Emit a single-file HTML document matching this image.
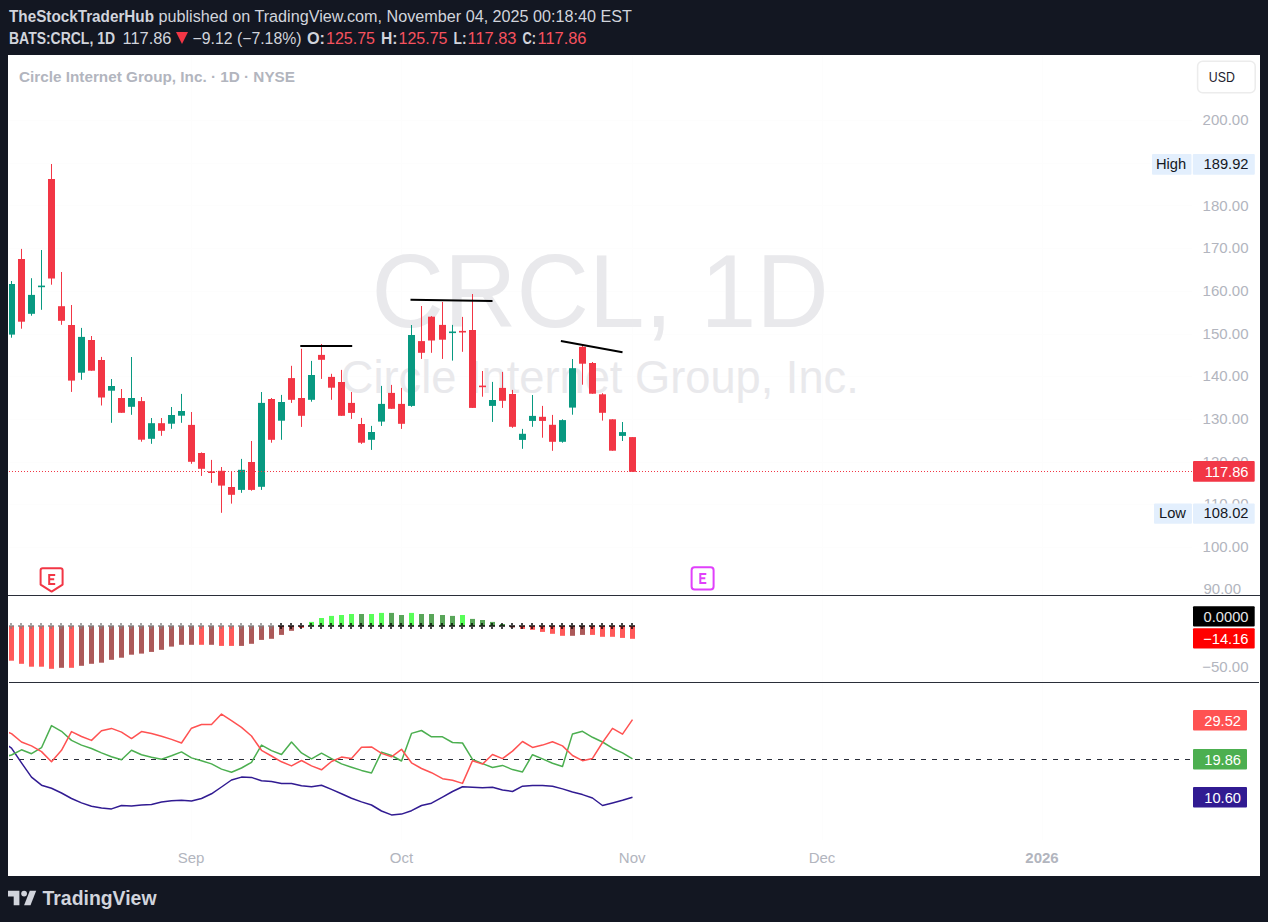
<!DOCTYPE html>
<html><head><meta charset="utf-8">
<style>
html,body{margin:0;padding:0;background:#131722;width:1268px;height:922px;overflow:hidden;}
svg{position:absolute;left:0;top:0;display:block;}
text{font-family:"Liberation Sans",sans-serif;}
</style></head><body>
<svg width="1268" height="922" viewBox="0 0 1268 922">
<defs><clipPath id="clipL"><rect x="9" y="683" width="1183" height="190"/></clipPath>
<clipPath id="clipP"><rect x="9" y="56" width="1250" height="819"/></clipPath></defs>
<rect x="0" y="0" width="1268" height="922" fill="#131722"/>
<!-- header -->
<g fill="#D1D4DC" font-size="16">
<text x="9" y="22" font-weight="bold" textLength="145" lengthAdjust="spacingAndGlyphs">TheStockTraderHub</text>
<text x="158.5" y="22" textLength="473.5" lengthAdjust="spacingAndGlyphs">published on TradingView.com, November 04, 2025 00:18:40 EST</text>
<text x="9" y="44" font-weight="bold" textLength="106" lengthAdjust="spacingAndGlyphs">BATS:CRCL, 1D</text>
<text x="122.5" y="44" textLength="49" lengthAdjust="spacingAndGlyphs">117.86</text>
<text x="192.5" y="44" textLength="109" lengthAdjust="spacingAndGlyphs">−9.12 (−7.18%)</text>
<text x="307" y="44" font-weight="bold" textLength="18" lengthAdjust="spacingAndGlyphs">O:</text>
<text x="381" y="44" font-weight="bold" textLength="16.5" lengthAdjust="spacingAndGlyphs">H:</text>
<text x="453.5" y="44" font-weight="bold" textLength="13" lengthAdjust="spacingAndGlyphs">L:</text>
<text x="522.5" y="44" font-weight="bold" textLength="13.5" lengthAdjust="spacingAndGlyphs">C:</text>
</g>
<g fill="#F7525F" font-size="16">
<text x="326" y="44" textLength="49" lengthAdjust="spacingAndGlyphs">125.75</text>
<text x="398.5" y="44" textLength="49" lengthAdjust="spacingAndGlyphs">125.75</text>
<text x="467.5" y="44" textLength="49" lengthAdjust="spacingAndGlyphs">117.83</text>
<text x="537.5" y="44" textLength="49" lengthAdjust="spacingAndGlyphs">117.86</text>
</g>
<polygon points="176,32 188,32 182,44" fill="#F23645"/>
<!-- panel -->
<rect x="8" y="55" width="1252" height="821" fill="#FFFFFF"/>
<g clip-path="url(#clipP)">
<rect x="8" y="590" width="1184" height="1" fill="#FDFDFD"/>
<rect x="8" y="547" width="1184" height="1" fill="#FDFDFD"/>
<rect x="8" y="504" width="1184" height="1" fill="#FDFDFD"/>
<rect x="8" y="462" width="1184" height="1" fill="#FDFDFD"/>
<rect x="8" y="419" width="1184" height="1" fill="#FDFDFD"/>
<rect x="8" y="376" width="1184" height="1" fill="#FDFDFD"/>
<rect x="8" y="334" width="1184" height="1" fill="#FDFDFD"/>
<rect x="8" y="291" width="1184" height="1" fill="#FDFDFD"/>
<rect x="8" y="248" width="1184" height="1" fill="#FDFDFD"/>
<rect x="8" y="205" width="1184" height="1" fill="#FDFDFD"/>
<rect x="8" y="163" width="1184" height="1" fill="#FDFDFD"/>
<rect x="8" y="120" width="1184" height="1" fill="#FDFDFD"/>
<rect x="191" y="55" width="1" height="785" fill="#FDFDFD"/>
<rect x="401" y="55" width="1" height="785" fill="#FDFDFD"/>
<rect x="632" y="55" width="1" height="785" fill="#FDFDFD"/>
<rect x="822" y="55" width="1" height="785" fill="#FDFDFD"/>
<rect x="1042" y="55" width="1" height="785" fill="#FDFDFD"/>
<text x="600.1" y="327.3" text-anchor="middle" font-size="103" fill="#E9E9EC" textLength="457" lengthAdjust="spacingAndGlyphs">CRCL, 1D</text>
<text x="599.8" y="392.8" text-anchor="middle" font-size="46" fill="#E9E9EC" textLength="518" lengthAdjust="spacingAndGlyphs">Circle Internet Group, Inc.</text>
<rect x="11" y="281.0" width="1" height="56.7" fill="#089981"/>
<rect x="8" y="284.0" width="7" height="50.6" fill="#089981"/>
<rect x="21" y="248.9" width="1" height="79.8" fill="#F23645"/>
<rect x="18" y="259.0" width="7" height="62.7" fill="#F23645"/>
<rect x="31" y="278.2" width="1" height="37.5" fill="#089981"/>
<rect x="28" y="294.9" width="7" height="18.9" fill="#089981"/>
<rect x="41" y="250.0" width="1" height="59.8" fill="#089981"/>
<rect x="38" y="285.6" width="7" height="1.6" fill="#089981"/>
<rect x="51" y="164.0" width="1" height="120.7" fill="#F23645"/>
<rect x="48" y="179.0" width="7" height="99.5" fill="#F23645"/>
<rect x="61" y="272.0" width="1" height="52.8" fill="#F23645"/>
<rect x="58" y="306.2" width="7" height="14.6" fill="#F23645"/>
<rect x="71" y="305.0" width="1" height="86.9" fill="#F23645"/>
<rect x="68" y="325.0" width="7" height="55.6" fill="#F23645"/>
<rect x="81" y="327.9" width="1" height="51.9" fill="#089981"/>
<rect x="78" y="336.9" width="7" height="35.8" fill="#089981"/>
<rect x="91" y="336.0" width="1" height="34.7" fill="#F23645"/>
<rect x="88" y="340.0" width="7" height="30.7" fill="#F23645"/>
<rect x="101" y="356.9" width="1" height="48.6" fill="#F23645"/>
<rect x="98" y="360.0" width="7" height="37.5" fill="#F23645"/>
<rect x="111" y="379.0" width="1" height="43.8" fill="#089981"/>
<rect x="108" y="386.0" width="7" height="4.7" fill="#089981"/>
<rect x="121" y="389.0" width="1" height="23.8" fill="#F23645"/>
<rect x="118" y="398.0" width="7" height="14.8" fill="#F23645"/>
<rect x="131" y="357.0" width="1" height="57.8" fill="#089981"/>
<rect x="128" y="398.0" width="7" height="8.8" fill="#089981"/>
<rect x="141" y="397.0" width="1" height="44.7" fill="#F23645"/>
<rect x="138" y="401.1" width="7" height="38.6" fill="#F23645"/>
<rect x="151" y="418.0" width="1" height="25.8" fill="#089981"/>
<rect x="148" y="423.2" width="7" height="15.6" fill="#089981"/>
<rect x="161" y="418.0" width="1" height="17.8" fill="#F23645"/>
<rect x="158" y="423.2" width="7" height="7.6" fill="#F23645"/>
<rect x="171" y="407.0" width="1" height="21.8" fill="#089981"/>
<rect x="168" y="415.0" width="7" height="8.7" fill="#089981"/>
<rect x="181" y="393.9" width="1" height="28.9" fill="#089981"/>
<rect x="178" y="411.0" width="7" height="4.7" fill="#089981"/>
<rect x="191" y="412.0" width="1" height="51.8" fill="#F23645"/>
<rect x="188" y="424.9" width="7" height="36.9" fill="#F23645"/>
<rect x="201" y="452.4" width="1" height="23.5" fill="#F23645"/>
<rect x="198" y="453.0" width="7" height="15.8" fill="#F23645"/>
<rect x="211" y="459.9" width="1" height="23.0" fill="#F23645"/>
<rect x="208" y="471.4" width="7" height="1.6" fill="#F23645"/>
<rect x="221" y="467.0" width="1" height="45.8" fill="#F23645"/>
<rect x="218" y="470.8" width="7" height="14.8" fill="#F23645"/>
<rect x="231" y="471.0" width="1" height="32.6" fill="#F23645"/>
<rect x="228" y="487.0" width="7" height="7.8" fill="#F23645"/>
<rect x="241" y="458.9" width="1" height="33.9" fill="#089981"/>
<rect x="238" y="469.8" width="7" height="20.1" fill="#089981"/>
<rect x="251" y="441.0" width="1" height="49.7" fill="#F23645"/>
<rect x="248" y="462.0" width="7" height="27.9" fill="#F23645"/>
<rect x="261" y="392.0" width="1" height="97.9" fill="#089981"/>
<rect x="258" y="402.9" width="7" height="83.9" fill="#089981"/>
<rect x="271" y="398.0" width="1" height="44.7" fill="#F23645"/>
<rect x="268" y="399.0" width="7" height="40.8" fill="#F23645"/>
<rect x="281" y="394.9" width="1" height="44.9" fill="#089981"/>
<rect x="278" y="402.0" width="7" height="18.7" fill="#089981"/>
<rect x="291" y="365.8" width="1" height="37.1" fill="#F23645"/>
<rect x="288" y="378.1" width="7" height="21.7" fill="#F23645"/>
<rect x="301" y="348.8" width="1" height="78.1" fill="#F23645"/>
<rect x="298" y="398.0" width="7" height="17.8" fill="#F23645"/>
<rect x="311" y="360.9" width="1" height="40.8" fill="#089981"/>
<rect x="308" y="375.0" width="7" height="24.8" fill="#089981"/>
<rect x="321" y="344.0" width="1" height="34.9" fill="#F23645"/>
<rect x="318" y="354.9" width="7" height="4.9" fill="#F23645"/>
<rect x="331" y="373.8" width="1" height="26.0" fill="#F23645"/>
<rect x="328" y="376.9" width="7" height="10.8" fill="#F23645"/>
<rect x="341" y="369.9" width="1" height="45.9" fill="#F23645"/>
<rect x="338" y="382.0" width="7" height="33.8" fill="#F23645"/>
<rect x="351" y="392.0" width="1" height="26.9" fill="#F23645"/>
<rect x="348" y="402.9" width="7" height="10.0" fill="#F23645"/>
<rect x="361" y="417.9" width="1" height="26.0" fill="#F23645"/>
<rect x="358" y="424.0" width="7" height="18.7" fill="#F23645"/>
<rect x="371" y="425.9" width="1" height="24.0" fill="#089981"/>
<rect x="368" y="432.0" width="7" height="7.8" fill="#089981"/>
<rect x="381" y="385.9" width="1" height="40.0" fill="#089981"/>
<rect x="378" y="403.9" width="7" height="17.7" fill="#089981"/>
<rect x="391" y="384.9" width="1" height="23.9" fill="#F23645"/>
<rect x="388" y="392.9" width="7" height="15.9" fill="#F23645"/>
<rect x="401" y="387.9" width="1" height="41.0" fill="#F23645"/>
<rect x="398" y="403.9" width="7" height="19.9" fill="#F23645"/>
<rect x="411" y="325.0" width="1" height="81.8" fill="#089981"/>
<rect x="408" y="335.0" width="7" height="70.9" fill="#089981"/>
<rect x="421" y="306.0" width="1" height="52.9" fill="#F23645"/>
<rect x="418" y="341.1" width="7" height="11.7" fill="#F23645"/>
<rect x="431" y="316.1" width="1" height="36.7" fill="#F23645"/>
<rect x="428" y="316.7" width="7" height="23.8" fill="#F23645"/>
<rect x="442" y="301.9" width="1" height="57.0" fill="#F23645"/>
<rect x="439" y="324.9" width="7" height="14.8" fill="#F23645"/>
<rect x="452" y="324.9" width="1" height="35.7" fill="#089981"/>
<rect x="449" y="331.5" width="7" height="1.6" fill="#089981"/>
<rect x="462" y="316.9" width="1" height="34.9" fill="#F23645"/>
<rect x="459" y="330.9" width="7" height="1.6" fill="#F23645"/>
<rect x="472" y="294.0" width="1" height="113.9" fill="#F23645"/>
<rect x="469" y="330.0" width="7" height="77.9" fill="#F23645"/>
<rect x="482" y="371.0" width="1" height="25.7" fill="#F23645"/>
<rect x="479" y="385.6" width="7" height="1.6" fill="#F23645"/>
<rect x="492" y="381.9" width="1" height="40.0" fill="#089981"/>
<rect x="489" y="400.0" width="7" height="5.9" fill="#089981"/>
<rect x="502" y="371.9" width="1" height="36.0" fill="#F23645"/>
<rect x="499" y="387.9" width="7" height="12.9" fill="#F23645"/>
<rect x="512" y="389.9" width="1" height="37.9" fill="#F23645"/>
<rect x="509" y="394.0" width="7" height="32.8" fill="#F23645"/>
<rect x="522" y="428.9" width="1" height="19.9" fill="#089981"/>
<rect x="519" y="433.8" width="7" height="6.1" fill="#089981"/>
<rect x="532" y="395.0" width="1" height="31.8" fill="#089981"/>
<rect x="529" y="415.9" width="7" height="5.0" fill="#089981"/>
<rect x="542" y="405.9" width="1" height="31.8" fill="#F23645"/>
<rect x="539" y="416.8" width="7" height="4.1" fill="#F23645"/>
<rect x="552" y="414.9" width="1" height="35.9" fill="#F23645"/>
<rect x="549" y="424.8" width="7" height="17.0" fill="#F23645"/>
<rect x="562" y="419.3" width="1" height="23.4" fill="#089981"/>
<rect x="559" y="420.1" width="7" height="21.7" fill="#089981"/>
<rect x="572" y="359.0" width="1" height="55.7" fill="#089981"/>
<rect x="569" y="368.2" width="7" height="39.4" fill="#089981"/>
<rect x="582" y="345.2" width="1" height="39.5" fill="#F23645"/>
<rect x="579" y="346.9" width="7" height="16.8" fill="#F23645"/>
<rect x="592" y="362.0" width="1" height="31.7" fill="#F23645"/>
<rect x="589" y="363.0" width="7" height="30.7" fill="#F23645"/>
<rect x="602" y="393.2" width="1" height="27.4" fill="#F23645"/>
<rect x="599" y="394.3" width="7" height="18.5" fill="#F23645"/>
<rect x="612" y="419.3" width="1" height="31.4" fill="#F23645"/>
<rect x="609" y="419.3" width="7" height="31.4" fill="#F23645"/>
<rect x="622" y="422.0" width="1" height="19.0" fill="#089981"/>
<rect x="619" y="432.1" width="7" height="3.8" fill="#089981"/>
<rect x="632" y="437.1" width="1" height="34.7" fill="#F23645"/>
<rect x="629" y="437.1" width="7" height="34.7" fill="#F23645"/>
<line x1="410.5" y1="299.7" x2="492.5" y2="300.9" stroke="#000" stroke-width="2"/>
<line x1="300.3" y1="346" x2="352.2" y2="346" stroke="#000" stroke-width="2"/>
<line x1="560.9" y1="341" x2="622.5" y2="352.3" stroke="#000" stroke-width="2"/>
<line x1="9" y1="471.5" x2="1192" y2="471.5" stroke="#F23645" stroke-width="1" stroke-dasharray="1 2"/>
<path d="M40.6 570.3 Q40.6 568.2 42.7 568.2 L60.5 568.2 Q62.6 568.2 62.6 570.3 L62.6 584.6 L51.6 591.6 L40.6 584.6 Z" fill="#fff" stroke="#F23645" stroke-width="2" stroke-linejoin="round"/>
<path d="M55.2 574.9 L49.2 574.9 L49.2 584 L55.2 584 M49.2 579.3 L54.2 579.3" fill="none" stroke="#F23645" stroke-width="2"/>
<rect x="691.6" y="567.3" width="22" height="22.1" rx="3" fill="#fff" stroke="#E040FB" stroke-width="2"/>
<path d="M706.3 574 L700.3 574 L700.3 582.9 L706.3 582.9 M700.3 578.3 L705.3 578.3" fill="none" stroke="#E040FB" stroke-width="2"/>
<rect x="8" y="595" width="1252" height="1" fill="#2A2E39"/>
<rect x="8" y="682" width="1251" height="1" fill="#2A2E39"/>
<rect x="9" y="626" width="5" height="34.7" fill="#FF5959"/>
<rect x="19" y="626" width="5" height="37.8" fill="#FF5959"/>
<rect x="29" y="626" width="5" height="40.7" fill="#FF5959"/>
<rect x="39" y="626" width="5" height="40.7" fill="#FF5959"/>
<rect x="49" y="626" width="5" height="42.8" fill="#FF5959"/>
<rect x="59" y="626" width="5" height="41.8" fill="#AC5959"/>
<rect x="69" y="626" width="5" height="41.8" fill="#FF5959"/>
<rect x="79" y="626" width="5" height="39.8" fill="#AC5959"/>
<rect x="89" y="626" width="5" height="37.8" fill="#AC5959"/>
<rect x="99" y="626" width="5" height="36.7" fill="#AC5959"/>
<rect x="109" y="626" width="5" height="33.8" fill="#AC5959"/>
<rect x="119" y="626" width="5" height="31.7" fill="#AC5959"/>
<rect x="129" y="626" width="5" height="28.7" fill="#AC5959"/>
<rect x="139" y="626" width="5" height="27.6" fill="#AC5959"/>
<rect x="149" y="626" width="5" height="25.9" fill="#AC5959"/>
<rect x="159" y="626" width="5" height="23.8" fill="#AC5959"/>
<rect x="169" y="626" width="5" height="20.6" fill="#AC5959"/>
<rect x="179" y="626" width="5" height="18.8" fill="#AC5959"/>
<rect x="189" y="626" width="5" height="18.8" fill="#AC5959"/>
<rect x="199" y="626" width="5" height="18.8" fill="#FF5959"/>
<rect x="209" y="626" width="5" height="18.8" fill="#AC5959"/>
<rect x="219" y="626" width="5" height="19.9" fill="#FF5959"/>
<rect x="229" y="626" width="5" height="19.9" fill="#FF5959"/>
<rect x="239" y="626" width="5" height="19.9" fill="#AC5959"/>
<rect x="249" y="626" width="5" height="17.8" fill="#AC5959"/>
<rect x="259" y="626" width="5" height="13.9" fill="#AC5959"/>
<rect x="269" y="626" width="5" height="12.8" fill="#AC5959"/>
<rect x="279" y="626" width="5" height="8.9" fill="#AC5959"/>
<rect x="289" y="626" width="5" height="4.8" fill="#AC5959"/>
<rect x="299" y="626" width="5" height="1.8" fill="#FF5959"/>
<rect x="309" y="621.9" width="5" height="4.1" fill="#59FF59"/>
<rect x="319" y="618.0" width="5" height="8.0" fill="#59FF59"/>
<rect x="329" y="615.9" width="5" height="10.1" fill="#59FF59"/>
<rect x="339" y="615.0" width="5" height="11.0" fill="#59FF59"/>
<rect x="349" y="614.0" width="5" height="12.0" fill="#59FF59"/>
<rect x="359" y="614.0" width="5" height="12.0" fill="#59A659"/>
<rect x="369" y="614.0" width="5" height="12.0" fill="#59FF59"/>
<rect x="379" y="612.9" width="5" height="13.1" fill="#59FF59"/>
<rect x="389" y="612.9" width="5" height="13.1" fill="#59A659"/>
<rect x="399" y="615.0" width="5" height="11.0" fill="#59A659"/>
<rect x="409" y="612.9" width="5" height="13.1" fill="#59FF59"/>
<rect x="419" y="614.0" width="5" height="12.0" fill="#59A659"/>
<rect x="429" y="614.0" width="5" height="12.0" fill="#59A659"/>
<rect x="440" y="615.0" width="5" height="11.0" fill="#59A659"/>
<rect x="450" y="615.9" width="5" height="10.1" fill="#59A659"/>
<rect x="460" y="615.0" width="5" height="11.0" fill="#59FF59"/>
<rect x="470" y="618.9" width="5" height="7.1" fill="#59A659"/>
<rect x="480" y="620.0" width="5" height="6.0" fill="#59A659"/>
<rect x="490" y="621.9" width="5" height="4.1" fill="#59A659"/>
<rect x="500" y="624.0" width="5" height="2.0" fill="#59A659"/>
<rect x="510" y="626" width="5" height="1.5" fill="#AC5959"/>
<rect x="520" y="626" width="5" height="2.9" fill="#FF5959"/>
<rect x="530" y="626" width="5" height="3.8" fill="#FF5959"/>
<rect x="540" y="626" width="5" height="5.9" fill="#FF5959"/>
<rect x="550" y="626" width="5" height="7.8" fill="#FF5959"/>
<rect x="560" y="626" width="5" height="9.8" fill="#FF5959"/>
<rect x="570" y="626" width="5" height="9.8" fill="#AC5959"/>
<rect x="580" y="626" width="5" height="8.9" fill="#AC5959"/>
<rect x="590" y="626" width="5" height="8.9" fill="#FF5959"/>
<rect x="600" y="626" width="5" height="10.8" fill="#FF5959"/>
<rect x="610" y="626" width="5" height="10.8" fill="#FF5959"/>
<rect x="620" y="626" width="5" height="11.9" fill="#FF5959"/>
<rect x="630" y="626" width="5" height="12.8" fill="#FF5959"/>
<path d="M8 625h6v2h-6zM10 623h2v2h-2zM10 627h2v2h-2z" fill="rgba(128,128,128,0.7)"/>
<path d="M18 625h6v2h-6zM20 623h2v2h-2zM20 627h2v2h-2z" fill="rgba(128,128,128,0.7)"/>
<path d="M28 625h6v2h-6zM30 623h2v2h-2zM30 627h2v2h-2z" fill="rgba(128,128,128,0.7)"/>
<path d="M38 625h6v2h-6zM40 623h2v2h-2zM40 627h2v2h-2z" fill="rgba(128,128,128,0.7)"/>
<path d="M48 625h6v2h-6zM50 623h2v2h-2zM50 627h2v2h-2z" fill="rgba(128,128,128,0.7)"/>
<path d="M58 625h6v2h-6zM60 623h2v2h-2zM60 627h2v2h-2z" fill="rgba(128,128,128,0.7)"/>
<path d="M68 625h6v2h-6zM70 623h2v2h-2zM70 627h2v2h-2z" fill="rgba(128,128,128,0.7)"/>
<path d="M78 625h6v2h-6zM80 623h2v2h-2zM80 627h2v2h-2z" fill="rgba(128,128,128,0.7)"/>
<path d="M88 625h6v2h-6zM90 623h2v2h-2zM90 627h2v2h-2z" fill="rgba(128,128,128,0.7)"/>
<path d="M98 625h6v2h-6zM100 623h2v2h-2zM100 627h2v2h-2z" fill="rgba(128,128,128,0.7)"/>
<path d="M108 625h6v2h-6zM110 623h2v2h-2zM110 627h2v2h-2z" fill="rgba(128,128,128,0.7)"/>
<path d="M118 625h6v2h-6zM120 623h2v2h-2zM120 627h2v2h-2z" fill="rgba(128,128,128,0.7)"/>
<path d="M128 625h6v2h-6zM130 623h2v2h-2zM130 627h2v2h-2z" fill="rgba(128,128,128,0.7)"/>
<path d="M138 625h6v2h-6zM140 623h2v2h-2zM140 627h2v2h-2z" fill="rgba(128,128,128,0.7)"/>
<path d="M148 625h6v2h-6zM150 623h2v2h-2zM150 627h2v2h-2z" fill="rgba(128,128,128,0.7)"/>
<path d="M158 625h6v2h-6zM160 623h2v2h-2zM160 627h2v2h-2z" fill="rgba(128,128,128,0.7)"/>
<path d="M168 625h6v2h-6zM170 623h2v2h-2zM170 627h2v2h-2z" fill="rgba(128,128,128,0.7)"/>
<path d="M178 625h6v2h-6zM180 623h2v2h-2zM180 627h2v2h-2z" fill="rgba(128,128,128,0.7)"/>
<path d="M188 625h6v2h-6zM190 623h2v2h-2zM190 627h2v2h-2z" fill="rgba(128,128,128,0.7)"/>
<path d="M198 625h6v2h-6zM200 623h2v2h-2zM200 627h2v2h-2z" fill="rgba(128,128,128,0.7)"/>
<path d="M208 625h6v2h-6zM210 623h2v2h-2zM210 627h2v2h-2z" fill="rgba(128,128,128,0.7)"/>
<path d="M218 625h6v2h-6zM220 623h2v2h-2zM220 627h2v2h-2z" fill="rgba(128,128,128,0.7)"/>
<path d="M228 625h6v2h-6zM230 623h2v2h-2zM230 627h2v2h-2z" fill="rgba(128,128,128,0.7)"/>
<path d="M238 625h6v2h-6zM240 623h2v2h-2zM240 627h2v2h-2z" fill="rgba(128,128,128,0.7)"/>
<path d="M248 625h6v2h-6zM250 623h2v2h-2zM250 627h2v2h-2z" fill="rgba(128,128,128,0.7)"/>
<path d="M258 625h6v2h-6zM260 623h2v2h-2zM260 627h2v2h-2z" fill="rgba(128,128,128,0.7)"/>
<path d="M268 625h6v2h-6zM270 623h2v2h-2zM270 627h2v2h-2z" fill="rgba(128,128,128,0.7)"/>
<path d="M278 625h6v2h-6zM280 623h2v2h-2zM280 627h2v2h-2z" fill="rgba(0,0,0,0.72)"/>
<path d="M288 625h6v2h-6zM290 623h2v2h-2zM290 627h2v2h-2z" fill="rgba(0,0,0,0.72)"/>
<path d="M298 625h6v2h-6zM300 623h2v2h-2zM300 627h2v2h-2z" fill="rgba(0,0,0,0.72)"/>
<path d="M308 625h6v2h-6zM310 623h2v2h-2zM310 627h2v2h-2z" fill="rgba(0,0,0,0.72)"/>
<path d="M318 625h6v2h-6zM320 623h2v2h-2zM320 627h2v2h-2z" fill="rgba(0,0,0,0.72)"/>
<path d="M328 625h6v2h-6zM330 623h2v2h-2zM330 627h2v2h-2z" fill="rgba(0,0,0,0.72)"/>
<path d="M338 625h6v2h-6zM340 623h2v2h-2zM340 627h2v2h-2z" fill="rgba(0,0,0,0.72)"/>
<path d="M348 625h6v2h-6zM350 623h2v2h-2zM350 627h2v2h-2z" fill="rgba(0,0,0,0.72)"/>
<path d="M358 625h6v2h-6zM360 623h2v2h-2zM360 627h2v2h-2z" fill="rgba(0,0,0,0.72)"/>
<path d="M368 625h6v2h-6zM370 623h2v2h-2zM370 627h2v2h-2z" fill="rgba(0,0,0,0.72)"/>
<path d="M378 625h6v2h-6zM380 623h2v2h-2zM380 627h2v2h-2z" fill="rgba(0,0,0,0.72)"/>
<path d="M388 625h6v2h-6zM390 623h2v2h-2zM390 627h2v2h-2z" fill="rgba(0,0,0,0.72)"/>
<path d="M398 625h6v2h-6zM400 623h2v2h-2zM400 627h2v2h-2z" fill="rgba(0,0,0,0.72)"/>
<path d="M408 625h6v2h-6zM410 623h2v2h-2zM410 627h2v2h-2z" fill="rgba(0,0,0,0.72)"/>
<path d="M418 625h6v2h-6zM420 623h2v2h-2zM420 627h2v2h-2z" fill="rgba(0,0,0,0.72)"/>
<path d="M428 625h6v2h-6zM430 623h2v2h-2zM430 627h2v2h-2z" fill="rgba(0,0,0,0.72)"/>
<path d="M439 625h6v2h-6zM441 623h2v2h-2zM441 627h2v2h-2z" fill="rgba(0,0,0,0.72)"/>
<path d="M449 625h6v2h-6zM451 623h2v2h-2zM451 627h2v2h-2z" fill="rgba(0,0,0,0.72)"/>
<path d="M459 625h6v2h-6zM461 623h2v2h-2zM461 627h2v2h-2z" fill="rgba(0,0,0,0.72)"/>
<path d="M469 625h6v2h-6zM471 623h2v2h-2zM471 627h2v2h-2z" fill="rgba(0,0,0,0.72)"/>
<path d="M479 625h6v2h-6zM481 623h2v2h-2zM481 627h2v2h-2z" fill="rgba(0,0,0,0.72)"/>
<path d="M489 625h6v2h-6zM491 623h2v2h-2zM491 627h2v2h-2z" fill="rgba(0,0,0,0.72)"/>
<path d="M499 625h6v2h-6zM501 623h2v2h-2zM501 627h2v2h-2z" fill="rgba(0,0,0,0.72)"/>
<path d="M509 625h6v2h-6zM511 623h2v2h-2zM511 627h2v2h-2z" fill="rgba(0,0,0,0.72)"/>
<path d="M519 625h6v2h-6zM521 623h2v2h-2zM521 627h2v2h-2z" fill="rgba(0,0,0,0.72)"/>
<path d="M529 625h6v2h-6zM531 623h2v2h-2zM531 627h2v2h-2z" fill="rgba(0,0,0,0.72)"/>
<path d="M539 625h6v2h-6zM541 623h2v2h-2zM541 627h2v2h-2z" fill="rgba(0,0,0,0.72)"/>
<path d="M549 625h6v2h-6zM551 623h2v2h-2zM551 627h2v2h-2z" fill="rgba(0,0,0,0.72)"/>
<path d="M559 625h6v2h-6zM561 623h2v2h-2zM561 627h2v2h-2z" fill="rgba(0,0,0,0.72)"/>
<path d="M569 625h6v2h-6zM571 623h2v2h-2zM571 627h2v2h-2z" fill="rgba(0,0,0,0.72)"/>
<path d="M579 625h6v2h-6zM581 623h2v2h-2zM581 627h2v2h-2z" fill="rgba(0,0,0,0.72)"/>
<path d="M589 625h6v2h-6zM591 623h2v2h-2zM591 627h2v2h-2z" fill="rgba(0,0,0,0.72)"/>
<path d="M599 625h6v2h-6zM601 623h2v2h-2zM601 627h2v2h-2z" fill="rgba(0,0,0,0.72)"/>
<path d="M609 625h6v2h-6zM611 623h2v2h-2zM611 627h2v2h-2z" fill="rgba(0,0,0,0.72)"/>
<path d="M619 625h6v2h-6zM621 623h2v2h-2zM621 627h2v2h-2z" fill="rgba(0,0,0,0.72)"/>
<path d="M629 625h6v2h-6zM631 623h2v2h-2zM631 627h2v2h-2z" fill="rgba(0,0,0,0.72)"/>
<line x1="8" y1="759.5" x2="1192" y2="759.5" stroke="#2A2E39" stroke-width="1" stroke-dasharray="5 6"/>
<g clip-path="url(#clipL)">
<polyline points="1.1,740.9 11.5,748.2 21.5,762.8 31.5,777.1 41.5,785.2 51.5,788.3 61.5,793.0 71.5,798.5 81.5,802.9 91.5,806.3 101.5,808.1 111.5,808.9 121.5,805.5 131.5,806.0 141.5,805.0 151.5,804.5 161.5,802.1 171.5,800.8 181.5,800.3 191.5,801.1 201.5,798.5 211.5,793.8 221.5,787.0 231.5,780.0 241.5,777.1 251.5,777.4 261.5,780.8 271.5,781.6 281.5,783.6 291.5,783.4 301.5,785.7 311.5,786.8 321.5,785.2 331.5,789.4 341.5,793.8 351.5,798.2 361.5,801.9 371.5,805.0 381.5,811.0 391.5,814.9 401.5,814.1 411.5,810.7 421.5,805.5 431.5,803.2 442.5,797.2 452.5,791.5 462.5,786.8 472.5,787.3 482.5,787.8 492.5,787.3 502.5,789.9 512.5,791.5 522.5,786.2 532.5,785.5 542.5,785.5 552.5,786.2 562.5,788.9 572.5,792.0 582.5,794.6 592.5,798.0 602.5,805.5 612.5,802.9 622.5,800.3 632.5,797.2" fill="none" stroke="#311B92" stroke-width="1.5" stroke-linejoin="round"/>
<polyline points="1.1,757.6 11.5,755.0 21.5,749.8 31.5,753.7 41.5,747.7 51.5,725.6 61.5,731.3 71.5,740.4 81.5,745.1 91.5,748.5 101.5,752.9 111.5,756.8 121.5,759.7 131.5,750.3 141.5,754.7 151.5,757.3 161.5,759.2 171.5,755.8 181.5,751.9 191.5,757.9 201.5,760.7 211.5,763.9 221.5,769.1 231.5,772.2 241.5,768.0 251.5,762.3 261.5,745.1 271.5,750.6 281.5,754.5 291.5,742.0 301.5,752.9 311.5,758.9 321.5,753.2 331.5,758.6 341.5,763.9 351.5,767.2 361.5,770.4 371.5,773.0 381.5,752.1 391.5,755.5 401.5,761.0 411.5,733.4 421.5,730.5 431.5,736.8 442.5,736.8 452.5,742.5 462.5,743.0 472.5,759.4 482.5,763.6 492.5,767.5 502.5,765.4 512.5,769.6 522.5,771.9 532.5,754.7 542.5,758.9 552.5,763.3 562.5,766.5 572.5,733.9 582.5,731.3 592.5,737.3 602.5,742.0 612.5,748.2 622.5,752.9 632.5,758.9" fill="none" stroke="#4CAF50" stroke-width="1.5" stroke-linejoin="round"/>
<polyline points="1.1,729.5 11.5,733.6 21.5,742.0 31.5,745.9 41.5,751.6 51.5,761.8 61.5,750.3 71.5,731.6 81.5,736.5 91.5,740.4 101.5,730.8 111.5,728.4 121.5,732.1 131.5,738.6 141.5,731.6 151.5,733.6 161.5,736.2 171.5,739.4 181.5,743.0 191.5,728.2 201.5,724.5 211.5,724.5 221.5,714.1 231.5,720.6 241.5,727.4 251.5,736.0 261.5,750.3 271.5,756.0 281.5,761.8 291.5,765.9 301.5,760.5 311.5,765.9 321.5,769.8 331.5,761.5 341.5,757.1 351.5,758.6 361.5,747.2 371.5,746.9 381.5,753.4 391.5,756.8 401.5,749.3 411.5,762.8 421.5,768.5 431.5,772.7 442.5,778.7 452.5,780.3 462.5,783.4 472.5,760.7 482.5,764.1 492.5,754.5 502.5,758.6 512.5,751.1 522.5,741.5 532.5,747.4 542.5,745.1 552.5,741.7 562.5,745.9 572.5,755.5 582.5,760.7 592.5,758.4 602.5,742.5 612.5,728.4 622.5,734.2 632.5,719.6" fill="none" stroke="#FF5252" stroke-width="1.5" stroke-linejoin="round"/>
</g>
</g>
<!-- title -->
<text x="19" y="81.5" font-size="14.5" font-weight="bold" fill="#B2B5BE" textLength="276" lengthAdjust="spacingAndGlyphs">Circle Internet Group, Inc. · 1D · NYSE</text>
<!-- USD -->
<rect x="1197.6" y="61.3" width="57.6" height="31.4" rx="5" fill="#fff" stroke="#ECECEC" stroke-width="1.5"/>
<text x="1208.8" y="81.8" font-size="15" fill="#1E222D" textLength="26" lengthAdjust="spacingAndGlyphs">USD</text>
<!-- price axis -->
<g font-size="15" fill="#B2B5BE" text-anchor="end" transform="translate(0,-0.7)">
<text x="1248.5" y="126">200.00</text>
<text x="1248.5" y="211.5">180.00</text>
<text x="1248.5" y="254">170.00</text>
<text x="1248.5" y="297">160.00</text>
<text x="1248.5" y="339.5">150.00</text>
<text x="1248.5" y="382">140.00</text>
<text x="1248.5" y="425">130.00</text>
<text x="1248.5" y="467.5">120.00</text>
<text x="1248.5" y="510">110.00</text>
<text x="1248.5" y="553">100.00</text>
<text x="1203.5" y="595" text-anchor="start">90.00</text>
<text x="1248.5" y="672.5">−50.00</text>
</g>
<rect x="8" y="595" width="1252" height="1" fill="#2A2E39"/>
<!-- high / low -->
<rect x="1152" y="154" width="39.5" height="20.7" rx="1" fill="#E3EFFD"/>
<rect x="1192.8" y="154" width="62" height="20.7" rx="1" fill="#E3EFFD"/>
<rect x="1154" y="503.4" width="37.9" height="20.3" rx="1" fill="#E3EFFD"/>
<rect x="1193" y="503.4" width="61.7" height="20.3" rx="1" fill="#E3EFFD"/>
<g font-size="14.7" fill="#131722" transform="translate(0,-0.9)">
<text x="1156" y="170">High</text>
<text x="1159" y="519">Low</text>
<text x="1248.5" y="170" text-anchor="end">189.92</text>
<text x="1248.5" y="519" text-anchor="end">108.02</text>
</g>
<rect x="1193" y="461" width="61.7" height="20.7" rx="1" fill="#F23645"/>
<text x="1248.5" y="476.5" font-size="14.7" fill="#fff" text-anchor="end">117.86</text>
<rect x="1193" y="606.3" width="61.7" height="20.3" rx="1" fill="#000"/>
<text x="1248.5" y="621.5" font-size="14.7" fill="#E6E6E6" text-anchor="end">0.0000</text>
<rect x="1193" y="628.3" width="61.7" height="20.3" rx="1" fill="#FF0000"/>
<text x="1248.5" y="643.5" font-size="14.7" fill="#fff" text-anchor="end">−14.16</text>
<rect x="1193" y="710" width="54" height="20.5" rx="1" fill="#FF5252"/>
<text x="1241" y="725.5" font-size="14.7" fill="#fff" text-anchor="end">29.52</text>
<rect x="1193" y="749" width="54" height="20.5" rx="1" fill="#4CAF50"/>
<text x="1241" y="764.5" font-size="14.7" fill="#fff" text-anchor="end">19.86</text>
<rect x="1193" y="787" width="54" height="20.5" rx="1" fill="#311B92"/>
<text x="1241" y="802.5" font-size="14.7" fill="#fff" text-anchor="end">10.60</text>
<!-- time axis -->
<g font-size="15" fill="#B2B5BE" text-anchor="middle">
<text x="191" y="863">Sep</text>
<text x="401.5" y="863">Oct</text>
<text x="632.2" y="863">Nov</text>
<text x="822" y="863">Dec</text>
</g>
<text x="1042" y="863" font-size="15" font-weight="bold" fill="#B2B5BE" text-anchor="middle">2026</text>
<!-- logo -->
<g fill="#D1D4DC">
<path d="M8 890.75 H19.4 V905.2 H13.7 V896.4 H8 Z"/>
<circle cx="24.1" cy="893.6" r="2.9"/>
<path d="M29.8 890.75 H36.2 L30.5 905.2 H24.1 Z"/>
<text x="42.5" y="905.2" font-size="20" font-weight="bold" textLength="114" lengthAdjust="spacingAndGlyphs">TradingView</text>
</g>
</svg>
</body></html>
